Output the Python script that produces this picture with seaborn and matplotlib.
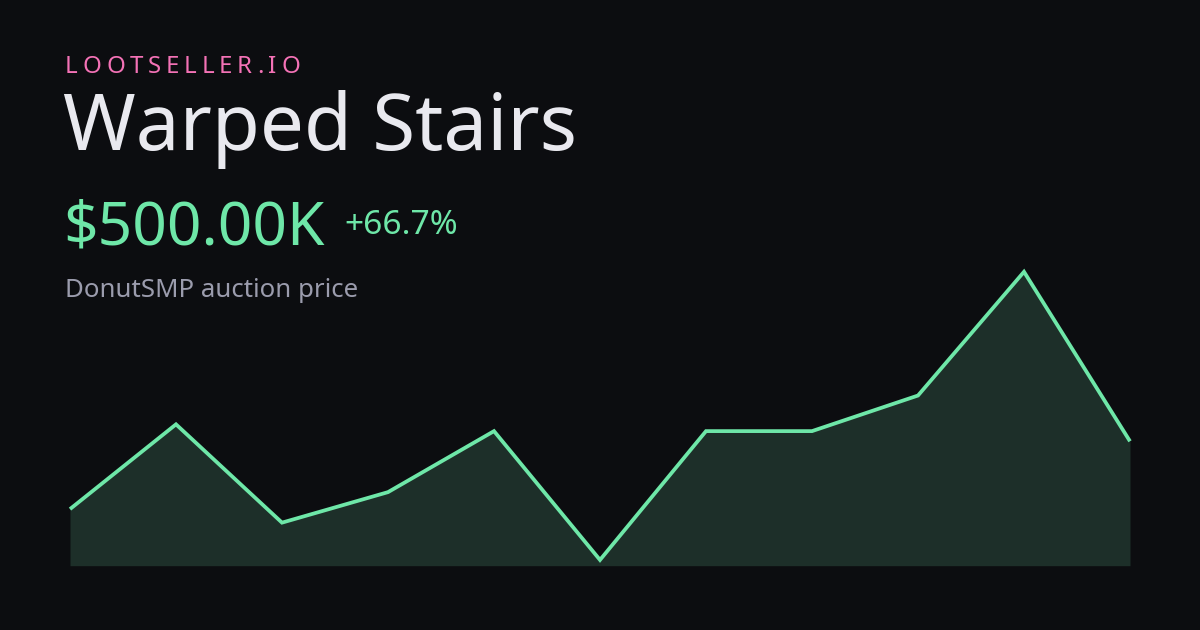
import matplotlib
matplotlib.use("Agg")
import matplotlib.pyplot as plt
import seaborn as sns
import pandas as pd

# ---- data ----
brand = "LOOTSELLER.IO"
title = "Warped Stairs"
price_label = "$500.00K"
change_label = "+66.7%"
subtitle = "DonutSMP auction price"
points = list(range(11))
prices_k = [300, 550, 260, 350, 530, 150, 530, 530, 635, 1000, 500]

# ---- style ----
BG = "#0c0d10"
LINE = "#6ee7a8"
FILL = "#1d2f29"
PINK = "#f472b6"
TITLE_C = "#e9e9ef"
SUB_C = "#9b9cad"

sns.set_theme(style="white")
plt.rcParams["font.family"] = ["Noto Sans", "DejaVu Sans"]

W, H = 1200, 630
fig = plt.figure(figsize=(W / 100, H / 100), dpi=100, facecolor=BG)

def fx(px):
    return px / W

def fy(py):
    return 1 - py / H

# chart axes
ax_left, ax_right = 70, 1130
ax_top, ax_bottom = 260, 565.7
ax = fig.add_axes([fx(ax_left), fy(ax_bottom), (ax_right - ax_left) / W, (ax_bottom - ax_top) / H])
ax.set_facecolor("none")
df = pd.DataFrame({"i": points, "price": prices_k})
ymin = 133
ymax = ymin + (ax_bottom - ax_top) / 0.339
ax.fill_between(df["i"], df["price"], ymin, color=FILL, linewidth=0, zorder=1)
sns.lineplot(data=df, x="i", y="price", ax=ax, color=LINE, linewidth=2.7, zorder=2,
             clip_on=False, solid_joinstyle="miter", solid_capstyle="butt")
ax.set_xlim(0, 10)
ax.set_ylim(ymin, ymax)
ax.axis("off")

# ---- texts ----
renderer = fig.canvas.get_renderer()

# letter-spaced brand
x = 65
spacing = 4.8
for ch in brand:
    t = fig.text(fx(x), fy(73), ch, color=PINK, fontsize=17.3, va="baseline", ha="left")
    bb = t.get_window_extent(renderer)
    x += bb.width + spacing

fig.text(fx(63), fy(150), title, color=TITLE_C, fontsize=56.3, va="baseline", ha="left")
fig.text(fx(63), fy(244), price_label, color=LINE, fontsize=43.5, va="baseline", ha="left")
fig.text(fx(344), fy(234), change_label, color=LINE, fontsize=24.2, va="baseline", ha="left")
fig.text(fx(65), fy(297), subtitle, color=SUB_C, fontsize=18.6, va="baseline", ha="left")

fig.savefig("out.png", dpi=100, facecolor=BG)
